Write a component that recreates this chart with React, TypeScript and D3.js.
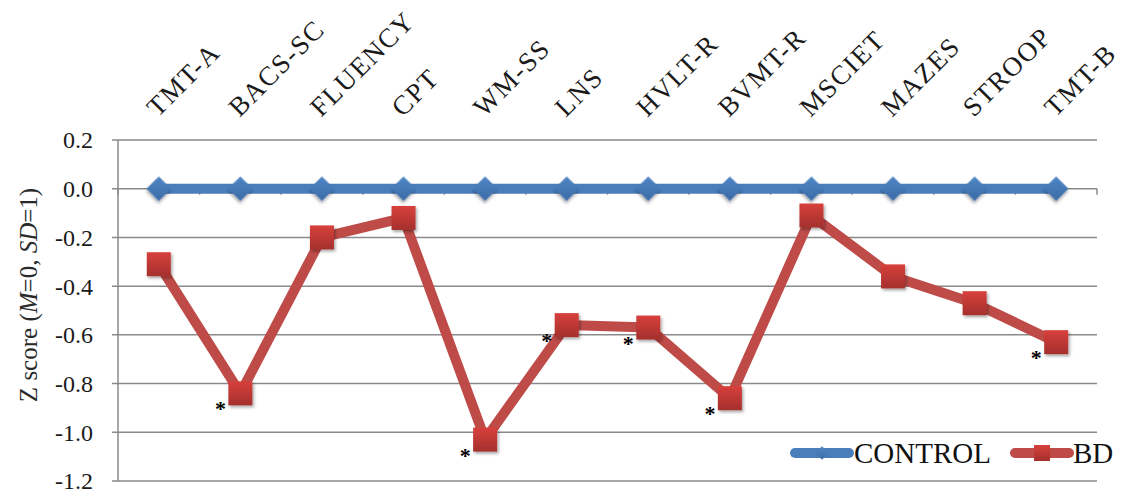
import React from "react";
import * as d3 from "d3";

// Neuropsychological test battery, z-scores relative to controls
const tests = ["TMT-A", "BACS-SC", "FLUENCY", "CPT", "WM-SS", "LNS", "HVLT-R", "BVMT-R", "MSCIET", "MAZES", "STROOP", "TMT-B"];
const controlScores = [0, 0, 0, 0, 0, 0, 0, 0, 0, 0, 0, 0];
const bdScores = [-0.31, -0.84, -0.20, -0.12, -1.03, -0.56, -0.57, -0.86, -0.11, -0.36, -0.47, -0.63];
// tests with a significant group difference
const significant = ["BACS-SC", "WM-SS", "LNS", "HVLT-R", "BVMT-R", "TMT-B"];
const yTicks = [0.2, 0.0, -0.2, -0.4, -0.6, -0.8, -1.0, -1.2];

const W = 1124;
const H = 493;
const plot = { left: 118, right: 1097, top: 140, bottom: 481 };

const BLUE = "#4A7EBB";
const RED = "#BE4B48";
const GRID = "#8A8A8A";
const SERIF = "'Liberation Serif', 'Times New Roman', serif";

export default function App() {
  const x = d3.scaleBand<string>().domain(tests).range([plot.left, plot.right]);
  const cx = (t: string) => (x(t) as number) + x.bandwidth() / 2;
  const y = d3.scaleLinear().domain([-1.2, 0.2]).range([plot.bottom, plot.top]);

  const line = d3.line<number>().x((_, i) => cx(tests[i])).y((v) => y(v));
  // diamonds are squares turned by 45 degrees
  const diamond = d3.symbol().type(d3.symbolSquare).size(300)();
  const diamondSmall = d3.symbol().type(d3.symbolSquare).size(90)();
  const sq = 24;

  const boundaries = d3.range(tests.length + 1).map((i) => plot.left + i * x.bandwidth());

  return (
    <svg width={W} height={H} style={{ position: "absolute", left: 0, top: 0, background: "#fff" }}>
      <defs>
        <linearGradient id="redFill" x1="0" y1="0" x2="0" y2="1">
          <stop offset="0" stopColor="#D8403C" />
          <stop offset="1" stopColor="#A4302D" />
        </linearGradient>
        <linearGradient id="blueFill" x1="0" y1="0" x2="1" y2="1">
          <stop offset="0" stopColor="#4F86C6" />
          <stop offset="1" stopColor="#3B6BA5" />
        </linearGradient>
        <filter id="shadow" x="-30%" y="-30%" width="160%" height="160%">
          <feDropShadow dx="1.5" dy="2" stdDeviation="1.6" floodColor="#000" floodOpacity="0.35" />
        </filter>
      </defs>

      {/* horizontal gridlines and value axis */}
      {yTicks.map((t) => (
        <g key={t}>
          <line x1={plot.left - 6} x2={plot.right} y1={y(t)} y2={y(t)} stroke={GRID} strokeWidth={1.5} />
          <text
            x={93}
            y={y(t)}
            dy="0.35em"
            textAnchor="end"
            fontFamily={SERIF}
            fontSize={24}
            fill="#1A1A1A"
          >
            {t.toFixed(1)}
          </text>
        </g>
      ))}
      <line x1={plot.left} x2={plot.left} y1={plot.top} y2={plot.bottom} stroke={GRID} strokeWidth={1.5} />

      {/* category tick marks along the zero line */}
      {boundaries.map((b, i) => (
        <line key={i} x1={b} x2={b} y1={y(0)} y2={y(0) + 6} stroke={GRID} strokeWidth={1.5} />
      ))}

      {/* category labels above the plot */}
      {tests.map((t) => (
        <text
          key={t}
          transform={`translate(${cx(t) - 1},118) rotate(-45)`}
          fontFamily={SERIF}
          fontSize={27}
          letterSpacing={1.5}
          fill="#1A1A1A"
        >
          {t}
        </text>
      ))}

      {/* y axis title */}
      <text
        transform={`translate(37,${295}) rotate(-90)`}
        textAnchor="middle"
        fontFamily={SERIF}
        fontSize={25}
        fill="#2A2A2A"
      >
        Z score (<tspan fontStyle="italic">M</tspan>=0, <tspan fontStyle="italic">SD</tspan>=1)
      </text>

      {/* CONTROL series */}
      <path d={line(controlScores) || ""} fill="none" stroke={BLUE} strokeWidth={10} strokeLinejoin="round" strokeLinecap="round" />
      {controlScores.map((v, i) => (
        <path
          key={i}
          d={diamond || ""}
          transform={`translate(${cx(tests[i])},${y(v)}) rotate(45)`}
          fill="url(#blueFill)"
          filter="url(#shadow)"
        />
      ))}

      {/* BD series */}
      <path d={line(bdScores) || ""} fill="none" stroke={RED} strokeWidth={10} strokeLinejoin="round" strokeLinecap="round" />
      {bdScores.map((v, i) => (
        <rect
          key={i}
          x={cx(tests[i]) - sq / 2}
          y={y(v) - sq / 2}
          width={sq}
          height={sq}
          fill="url(#redFill)"
          filter="url(#shadow)"
        />
      ))}

      {/* significance markers */}
      {tests.map((t, i) =>
        significant.includes(t) ? (
          <text
            key={t}
            x={cx(t) - 20}
            y={y(bdScores[i]) + 12}
            dy={11}
            textAnchor="middle"
            fontFamily={SERIF}
            fontWeight="bold"
            fontSize={22}
            fill="#000"
          >
            *
          </text>
        ) : null
      )}

      {/* legend */}
      <g fontFamily={SERIF} fontSize={29} fill="#111">
        <line x1={795} x2={849} y1={453} y2={453} stroke={BLUE} strokeWidth={10} strokeLinecap="round" />
        <path d={diamondSmall || ""} transform="translate(822,453) rotate(45)" fill="url(#blueFill)" />
        <text x={854} y={463}>CONTROL</text>
        <line x1={1015} x2={1069} y1={453} y2={453} stroke={RED} strokeWidth={10} strokeLinecap="round" />
        <rect x={1034} y={445} width={16} height={16} fill="url(#redFill)" />
        <text x={1073} y={463}>BD</text>
      </g>
    </svg>
  );
}
